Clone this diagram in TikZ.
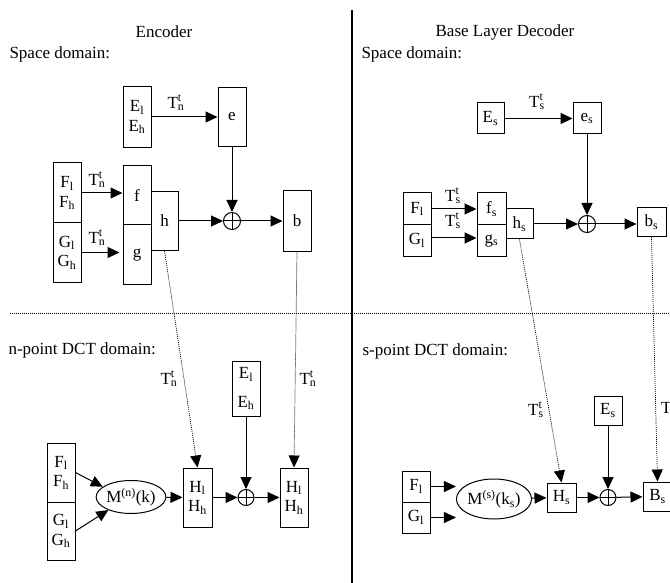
\documentclass[tikz,border=0pt]{standalone}
\usepackage{fontspec}
\setmainfont{Liberation Serif}
\usetikzlibrary{arrows.meta,positioning,calc,shapes.geometric}
\newcommand{\Tt}[1]{T\rlap{\textsuperscript{t}}\textsubscript{#1}}
\newcommand{\ix}[2]{#1\textsubscript{#2}}

\begin{document}
\begin{tikzpicture}[x=1pt,y=-1pt,>={Triangle[length=12pt,width=11pt]},
  every node/.style={font=\fontsize{17}{19.5}\selectfont},
  blk/.style={draw,line width=1pt,inner sep=0pt,minimum width=28pt,align=center},
  sum/.style={draw,circle,line width=1pt,minimum size=17pt,inner sep=0pt,
    path picture={\draw[line width=1pt] (path picture bounding box.north) -- (path picture bounding box.south)
      (path picture bounding box.west) -- (path picture bounding box.east);}},
  flow/.style={->,line width=1pt},
  xfer/.style={->,line width=0.7pt,dash pattern=on 1pt off 1pt},
  lbl/.style={inner sep=0pt}]
  \useasboundingbox (0,0) rectangle (670,583);
  \clip (0,0) rectangle (670,583);
  % frame of the two halves
  \draw[line width=1.2pt] (352,10) -- (352,583);
  \draw[line width=0.7pt,dash pattern=on 1pt off 1pt] (10,313) -- (670,313);
  \node (enc) at (164,32) {Encoder};
  \node (dec) at (505,32) {Base Layer Decoder};
  \node[anchor=west] (spl) at (6,54) {Space domain:};
  \node[anchor=west] (spr) at (358,54) {Space domain:};
  \node[anchor=west] (dctn) at (5,350) {n-point DCT domain:};
  \node[anchor=west] (dcts) at (359,351) {s-point DCT domain:};

  % encoder, space domain
  \node[blk,minimum height=61pt] (E) at (137,117) {\ix{E}{l}\\\ix{E}{h}};
  \node[blk,minimum height=59pt] (e) at (232,117) {e};
  \node[blk,minimum height=60pt] (F) at (67,193) {\ix{F}{l}\\\ix{F}{h}};
  \node[blk,minimum height=59pt] (G) at (67,252.5) {\ix{G}{l}\\\ix{G}{h}};
  \node[blk,minimum height=59pt] (f) at (137,195.5) {f};
  \node[blk,minimum height=59pt] (g) at (137,254.5) {g};
  \node[blk,minimum width=27pt,minimum height=59pt] (h) at (164.5,221) {h};
  \node[sum] (p1) at (232,221) {};
  \node[blk,minimum height=60pt] (b) at (297,221) {b};
  \draw[flow] (E) -- (e);
  \draw[flow] (F.east) -- (F.east -| f.west);
  \draw[flow,shorten >=3pt] (G.east) -- (G.east -| g.west);
  \draw[flow] (e) -- (p1);
  \draw[flow] (h) -- (p1);
  \draw[flow] (p1) -- (b);
  \node[lbl] (t1) at (176,103) {\Tt{n}};
  \node[lbl] (t2) at (97,180) {\Tt{n}};
  \node[lbl] (t3) at (97,238) {\Tt{n}};

  % encoder, n-point DCT domain
  \node[blk,minimum height=55pt] (E2) at (246,388.5) {\ix{E}{l}\\[9pt]\ix{E}{h}};
  \node[blk,minimum height=59pt] (F2) at (61,472.5) {\ix{F}{l}\\\ix{F}{h}};
  \node[blk,minimum height=58pt] (G2) at (61,531) {\ix{G}{l}\\\ix{G}{h}};
  \node[draw,ellipse,line width=1pt,minimum width=62pt,minimum height=33pt,inner sep=0pt] (M) at (131,497) {M\textsuperscript{(n)}(k)};
  \node[blk,minimum width=29pt,minimum height=59pt] (H1) at (197.5,497.5) {\ix{H}{l}\\\ix{H}{h}};
  \node[sum,minimum size=16pt] (p2) at (246,497.5) {};
  \node[blk,minimum height=59pt] (H2) at (294,497.5) {\ix{H}{l}\\\ix{H}{h}};
  \draw[flow] (F2.east) -- (M.160);
  \draw[flow] (G2.east) -- (M.210);
  \draw[flow] (M) -- (H1);
  \draw[flow] (H1) -- (p2);
  \draw[flow] (E2) -- (p2);
  \draw[flow] (p2) -- (H2);
  \draw[xfer] (h.south) -- (H1.north);
  \draw[xfer] (b.south) -- (H2.north);
  \node[lbl] (t4) at (169,379) {\Tt{n}};
  \node[lbl] (t5) at (308,379) {\Tt{n}};

  % base layer decoder, space domain
  \node[blk,minimum width=27pt,minimum height=31pt] (Es) at (490.5,118.5) {\ix{E}{s}};
  \node[blk,minimum height=31pt] (es) at (587,118.5) {\ix{e}{s}};
  \node[blk,minimum height=32pt] (Fr) at (417,209) {\ix{F}{l}};
  \node[blk,minimum height=31pt] (Gr) at (417,240.5) {\ix{G}{l}};
  \node[blk,minimum width=29pt,minimum height=32pt] (fs) at (491.5,209) {\ix{f}{s}};
  \node[blk,minimum width=29pt,minimum height=31pt] (gs) at (491.5,240.5) {\ix{g}{s}};
  \node[blk,minimum width=27pt,minimum height=30pt] (hs) at (519.5,224) {\ix{h}{s}};
  \node[sum] (p3) at (587,224) {};
  \node[blk,minimum width=29pt,minimum height=29pt] (bs) at (651.5,222) {\ix{b}{s}};
  \draw[flow] (Es) -- (es);
  \draw[flow] (Fr.east) -- (Fr.east -| fs.west);
  \draw[flow] (Gr.east |- 0,238) -- (gs.west |- 0,238);
  \draw[flow] (es) -- (p3);
  \draw[flow] (hs) -- (p3);
  \draw[flow] (p3) -- (p3 -| bs.west);
  \node[lbl] (t6) at (537,102) {\Tt{s}};
  \node[lbl] (t7) at (453,196) {\Tt{s}};
  \node[lbl] (t8) at (453,221) {\Tt{s}};

  % base layer decoder, s-point DCT domain
  \node[blk,minimum height=29pt] (Es2) at (608,410.5) {\ix{E}{s}};
  \node[blk,minimum height=31pt] (Fr2) at (416,486.5) {\ix{F}{l}};
  \node[blk,minimum height=31pt] (Gr2) at (416,517.5) {\ix{G}{l}};
  \node[draw,ellipse,line width=1pt,minimum width=60pt,minimum height=40pt,inner sep=0pt] (Ms) at (494,499) {M\textsuperscript{(s)}(\ix{k}{s})};
  \node[blk,minimum width=29pt,minimum height=29pt] (Hs) at (561.5,497.5) {\ix{H}{s}};
  \node[sum,minimum size=16pt] (p4) at (608,497.5) {};
  \node[blk,minimum width=29pt,minimum height=29pt] (Bs) at (657.5,496.5) {\ix{B}{s}};
  \draw[flow] (Fr2.east) -- (Fr2.east -| Ms.west);
  \draw[flow] (Gr2.east) -- (Gr2.east -| Ms.west);
  \draw[flow] (Ms) -- (Hs);
  \draw[flow] (Hs) -- (p4);
  \draw[flow] (Es2) -- (p4);
  \draw[flow] (p4) -- (Bs);
  \draw[xfer] (hs.south) -- (Hs.north);
  \draw[xfer] (bs.south) -- (Bs.north);
  \node[lbl] (t9) at (536,410) {\Tt{s}};
  \node[lbl] (t10) at (669,408) {\Tt{s}};
\end{tikzpicture}
\end{document}
